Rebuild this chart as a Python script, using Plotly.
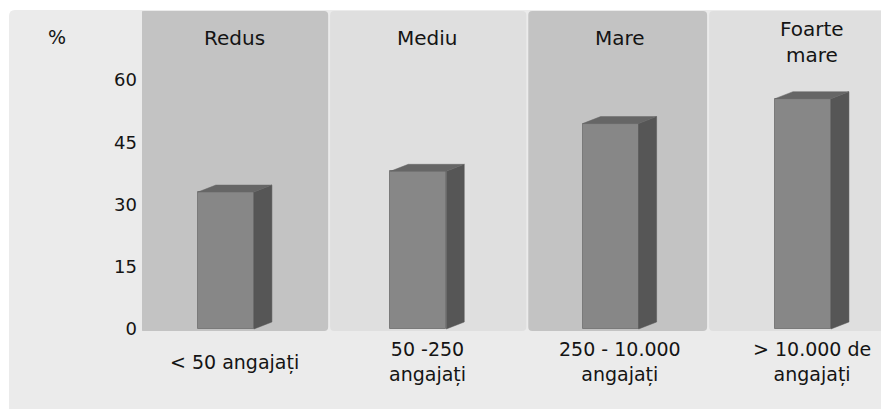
import plotly.graph_objects as go

# Share of companies by company size (%)
categories = ["< 50 angajați", "50 -250\nangajați", "250 - 10.000\nangajați", "> 10.000 de\nangajați"]
size_groups = ["Redus", "Mediu", "Mare", "Foarte\nmare"]
values = [33, 38, 49.5, 55.5]
y_ticks = [0, 15, 30, 45, 60]

# Figure geometry (pixels)
W, H = 881, 409
L, R, T, B = 142, 0, 11, 78
plot_w = W - L - R
plot_h = H - T - B

X_RANGE = [-0.483, 3.359]
Y_RANGE = [-0.48, 76.63]
px_x = plot_w / (X_RANGE[1] - X_RANGE[0])
px_y = plot_h / (Y_RANGE[1] - Y_RANGE[0])

# 3D column look: front face width and depth offsets in data units
FRONT_W = 56 / px_x
DEPTH_X = 18 / px_x
DEPTH_Y = 7 / px_y

FONT = "DejaVu Sans"
TEXT_COLOR = "#141414"
OUTER_BG = "#ebebeb"
BAND_COLORS = ["#c3c3c3", "#dfdfdf"]
FRONT_COLOR = "#878787"
SIDE_COLOR = "#565656"
TOP_COLOR = "#666666"

positions = list(range(len(values)))
front_x = [p - DEPTH_X / 2 for p in positions]


def paper_x(px):
    return (px - L) / plot_w


def paper_y(py):
    return (H - B - py) / plot_h


def rounded_rect(x0, y0, x1, y1, rx, ry):
    return (f"M {x0},{y0 + ry} L {x0},{y1 - ry} Q {x0},{y1} {x0 + rx},{y1} "
            f"L {x1 - rx},{y1} Q {x1},{y1} {x1},{y1 - ry} L {x1},{y0 + ry} "
            f"Q {x1},{y0} {x1 - rx},{y0} L {x0 + rx},{y0} Q {x0},{y0} {x0},{y0 + ry} Z")


fig = go.Figure()

# Front faces of the columns
fig.add_trace(go.Bar(
    x=front_x, y=values, width=FRONT_W, base=0,
    marker=dict(color=FRONT_COLOR, line=dict(color="#7a7a7a", width=1)),
    hoverinfo="skip", showlegend=False,
))

# Side and top faces computed from each value
side_x, side_y, top_x, top_y = [], [], [], []
for fx, v in zip(front_x, values):
    xl, xr = fx - FRONT_W / 2, fx + FRONT_W / 2
    side_x += [xr, xr + DEPTH_X, xr + DEPTH_X, xr, xr, None]
    side_y += [0, DEPTH_Y, v + DEPTH_Y, v, 0, None]
    top_x += [xl, xl + DEPTH_X, xr + DEPTH_X, xr, xl, None]
    top_y += [v, v + DEPTH_Y, v + DEPTH_Y, v, v, None]

fig.add_trace(go.Scatter(x=side_x, y=side_y, mode="lines", fill="toself",
                         fillcolor=SIDE_COLOR, line=dict(color=SIDE_COLOR, width=0.5),
                         hoverinfo="skip", showlegend=False))
fig.add_trace(go.Scatter(x=top_x, y=top_y, mode="lines", fill="toself",
                         fillcolor=TOP_COLOR, line=dict(color=TOP_COLOR, width=0.5),
                         hoverinfo="skip", showlegend=False))

# Outer grey panel with a rounded top-left corner
rx_p, ry_p = 6 / plot_w, 6 / plot_h
x0p, x1p = paper_x(9), paper_x(W + 2)
y0p, y1p = paper_y(H + 2), paper_y(10)
shapes = [dict(
    type="path", xref="paper", yref="paper", layer="below",
    path=(f"M {x0p},{y0p} L {x0p},{y1p - ry_p} Q {x0p},{y1p} {x0p + rx_p},{y1p} "
          f"L {x1p},{y1p} L {x1p},{y0p} Z"),
    fillcolor=OUTER_BG, line=dict(width=0),
)]

# Alternating background bands, one per size group
band_edges = [-0.5, 0.49, 1.52, 2.46, 3.5]
gap = 1 / px_x
rx_b, ry_b = 4 / px_x, 4 / plot_h
for i in range(len(positions)):
    shapes.append(dict(
        type="path", xref="x", yref="paper", layer="below",
        path=rounded_rect(band_edges[i] + gap, 0, band_edges[i + 1] - gap, 1, rx_b, ry_b),
        fillcolor=BAND_COLORS[i % 2], line=dict(width=0),
    ))

annotations = [dict(
    text="%", xref="paper", yref="paper", x=paper_x(57), y=paper_y(37),
    showarrow=False, xanchor="center", yanchor="middle",
    font=dict(family=FONT, size=19, color=TEXT_COLOR),
)]

# Group titles at the top of each band
for p, title in zip(positions, size_groups):
    n = title.count("\n")
    annotations.append(dict(
        text=title.replace("\n", "<br>"), xref="x", yref="paper",
        x=p, y=paper_y(38 + 4 * n),
        showarrow=False, xanchor="center", yanchor="middle", align="center",
        font=dict(family=FONT, size=20, color=TEXT_COLOR),
    ))

# Category labels under the columns
for p, label in zip(positions, categories):
    annotations.append(dict(
        text=label.replace("\n", "<br>"), xref="x", yref="paper",
        x=p, y=paper_y(362),
        showarrow=False, xanchor="center", yanchor="middle", align="center",
        font=dict(family=FONT, size=19, color=TEXT_COLOR),
    ))

fig.update_layout(
    width=W, height=H,
    margin=dict(l=L, r=R, t=T, b=B, pad=0),
    paper_bgcolor="white",
    plot_bgcolor="rgba(0,0,0,0)",
    shapes=shapes,
    annotations=annotations,
    xaxis=dict(range=X_RANGE, showgrid=False, zeroline=False, showline=False,
               showticklabels=False, ticks="", fixedrange=True),
    yaxis=dict(range=Y_RANGE, tickvals=y_ticks, showgrid=False, zeroline=False,
               showline=False, ticks="", ticklabelstandoff=4,
               tickfont=dict(family=FONT, size=18, color=TEXT_COLOR), fixedrange=True),
    bargap=0,
)

fig.write_html("out.html", config={"displayModeBar": False})
